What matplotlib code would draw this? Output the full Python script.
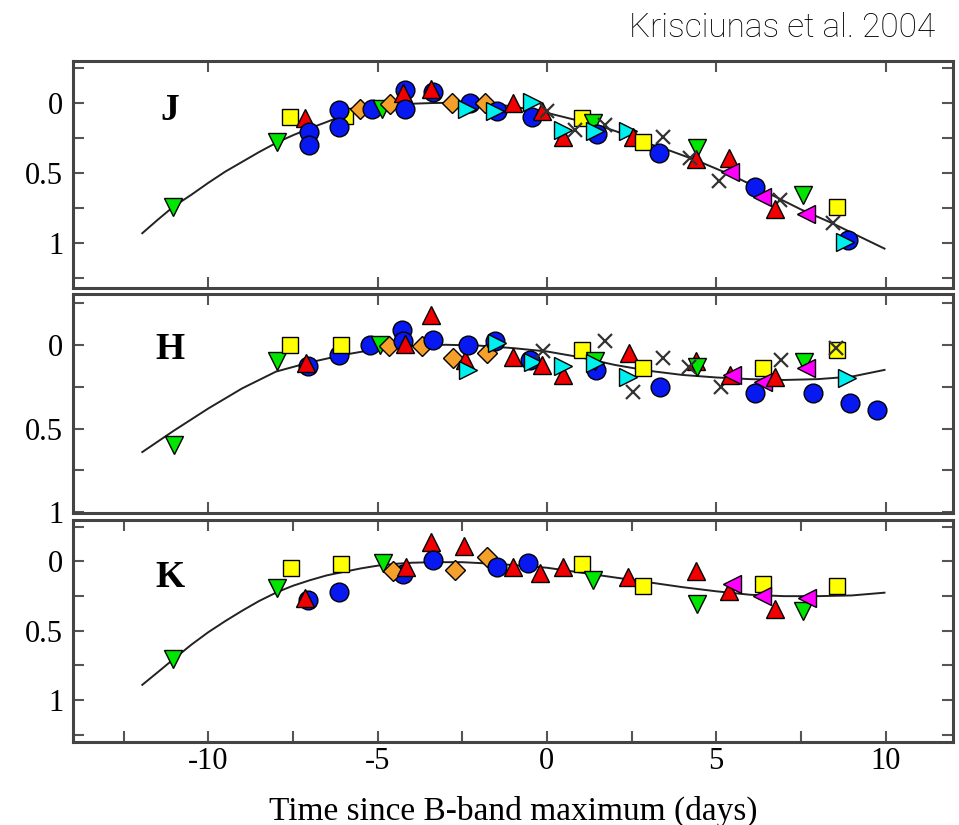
import matplotlib
matplotlib.use("Agg")
import matplotlib.pyplot as plt
from matplotlib.ticker import MultipleLocator, FixedLocator

plt.rcParams['axes.unicode_minus'] = False
plt.rcParams['font.family'] = ['Liberation Serif', 'DejaVu Serif']

# symbol codes: o blue circle, ^ red, v green, s yellow, D orange, > cyan, < magenta, x cross
J_t = [-11.03, -7.96, -5.96, -7.58, -7.14, -7.02, -7.02, -6.14, -6.14, -5.52, -5.16, -4.87, -4.63,
       -4.19, -4.25, -4.19, -3.36, -3.42, -2.80, -2.27, -2.36, -1.83, -1.47, -1.53, -1.0,
       -0.44, -0.44, -0.15, 0.0, 1.03, 1.36, 1.71, 0.47, 0.47, 0.83, 1.47, 1.42, 2.39, 2.54,
       2.83, 3.42, 3.30, 4.42, 4.40, 4.22, 5.37, 5.40, 5.07, 6.14, 6.34, 6.87, 6.73, 7.55, 7.64,
       8.58, 8.44, 8.88, 8.79]
J_mag = [0.74, 0.28, 0.09, 0.10, 0.11, 0.21, 0.30, 0.05, 0.17, 0.04, 0.04, 0.04, 0.01,
         -0.09, -0.07, 0.04, -0.08, -0.10, 0.0, 0.0, 0.04, 0.0, 0.06, 0.06, 0.0,
         0.10, -0.01, 0.06, 0.06, 0.11, 0.14, 0.16, 0.24, 0.19, 0.19, 0.22, 0.20, 0.20, 0.24,
         0.28, 0.24, 0.36, 0.32, 0.40, 0.39, 0.39, 0.49, 0.56, 0.60, 0.67, 0.69, 0.76, 0.66, 0.79,
         0.74, 0.86, 0.98, 0.99]
J_sym = ['v', 'v', 's', 's', '^', 'o', 'o', 'o', 'o', 'D', 'o', 'v', 'D',
         'o', '^', 'o', 'o', '^', 'D', 'o', '>', 'D', 'o', '>', '^',
         'o', '>', '^', 'x', 's', 'v', 'x', '^', '>', 'x', 'o', '>', '>', '^',
         's', 'x', 'o', 'v', '^', 'x', '^', '<', 'x', 'o', '<', 'x', '^', 'v', '<',
         's', 'x', 'o', '>']

H_t = [-11.0, -7.96, -7.58, -7.05, -7.11, -6.14, -6.08, -5.22, -4.93, -4.66, -4.28, -4.25, -4.19,
       -3.69, -3.42, -3.36, -2.77, -2.42, -2.33, -2.33, -1.77, -1.53, -1.47, -1.0, -0.50, -0.41,
       -0.15, -0.12, 0.47, 0.47, 1.03, 1.45, 1.42, 1.42, 1.71, 2.39, 2.54, 2.42, 2.83, 3.42, 3.33,
       4.40, 4.42, 4.19, 5.13, 5.40, 5.46, 6.37, 6.37, 6.73, 6.90, 6.14, 7.58, 7.64, 7.85, 8.58,
       8.55, 8.85, 8.94, 9.76]
H_mag = [0.60, 0.095, 0.0, 0.125, 0.11, 0.06, 0.0, 0.0, 0.0, 0.005, -0.09, -0.02, -0.005,
         0.01, -0.18, -0.03, 0.08, 0.09, 0.15, 0.0, 0.05, -0.02, -0.01, 0.07, 0.09, 0.10,
         0.12, 0.04, 0.18, 0.125, 0.03, 0.15, 0.095, 0.11, -0.02, 0.19, 0.28, 0.05, 0.14, 0.08, 0.25,
         0.095, 0.13, 0.13, 0.25, 0.18, 0.18, 0.14, 0.22, 0.19, 0.09, 0.29, 0.10, 0.14, 0.29, 0.03,
         0.02, 0.20, 0.35, 0.39]
H_sym = ['v', 'v', 's', 'o', '^', 'o', 's', 'o', 'v', 'D', 'o', 'o', '^',
         'D', '^', 'o', 'D', '^', '>', 'o', 'D', 'o', '>', '^', 'o', '>',
         '^', 'x', '^', '>', 's', 'o', 'v', '>', 'x', '>', 'x', '^', 's', 'x', 'o',
         '^', 'v', 'x', 'x', '^', '<', 's', '<', '^', 'x', 'o', 'v', '<', 'o', 's',
         'x', '>', 'o', 'o']

K_t = [-11.03, -7.96, -7.55, -7.05, -7.14, -6.14, -6.08, -4.84, -4.25, -4.54, -4.16, -3.42, -3.36,
       -2.45, -2.71, -1.77, -1.47, -1.0, -0.56, -0.21, 0.47, 1.03, 1.36, 2.39, 2.83, 4.40, 4.42,
       5.37, 5.46, 6.37, 6.34, 6.73, 7.55, 7.67, 8.58]
K_mag = [0.70, 0.19, 0.045, 0.28, 0.26, 0.22, 0.015, 0.01, 0.09, 0.07, 0.04, -0.14, -0.01,
         -0.11, 0.06, -0.03, 0.04, 0.04, 0.01, 0.08, 0.04, 0.015, 0.13, 0.115, 0.18, 0.065, 0.31,
         0.215, 0.165, 0.165, 0.25, 0.34, 0.36, 0.26, 0.18]
K_sym = ['v', 'v', 's', 'o', '^', 'o', 's', 'v', 'o', 'D', '^', '^', 'o',
         '^', 'D', 'D', 'o', '^', 'o', '^', '^', 's', 'v', '^', 's', '^', 'v',
         '^', '<', 's', '<', '^', 'v', '<', 's']

# template curves
J_curve_t = [-11.95, -11.5, -11.03, -10.5, -10.0, -9.5, -9.0, -8.5, -7.96, -7.5, -7.0, -6.5, -6.14,
             -5.5, -5.0, -4.5, -4.0, -3.4, -2.5, -1.8, -1.0, -0.5, 0.0, 0.5, 1.0, 1.65, 2.5, 3.0,
             3.63, 4.42, 5.5, 6.67, 7.5, 8.44, 9.2, 9.97]
J_curve_mag = [0.93, 0.835, 0.74, 0.655, 0.57, 0.49, 0.42, 0.35, 0.28, 0.23, 0.18, 0.135, 0.10,
               0.06, 0.03, 0.015, 0.005, 0.0, -0.003, 0.0, 0.025, 0.045, 0.07, 0.10, 0.13, 0.17, 0.24, 0.29,
               0.34, 0.41, 0.52, 0.66, 0.76, 0.86, 0.95, 1.04]
H_curve_t = [-11.95, -11.0, -10.0, -9.0, -8.0, -7.0, -6.0, -5.0, -4.0, -3.0, -2.0, -1.0, 0.0, 1.0,
             2.0, 3.0, 4.0, 5.0, 6.0, 7.0, 8.0, 9.0, 9.97]
H_curve_mag = [0.64, 0.51, 0.38, 0.26, 0.16, 0.105, 0.06, 0.025, 0.008, 0.0, 0.005, 0.02, 0.04, 0.075,
               0.12, 0.155, 0.18, 0.195, 0.205, 0.21, 0.205, 0.19, 0.15]
K_curve_t = [-11.95, -11.5, -11.03, -10.5, -10.0, -9.5, -9.0, -8.5, -7.96, -7.5, -7.0, -6.5, -6.0,
             -5.5, -5.0, -4.5, -4.0, -3.36, -2.5, -1.3, 0.0, 1.0, 2.0, 3.0, 4.0, 5.0, 6.0, 7.0,
             8.0, 9.0, 9.97]
K_curve_mag = [0.89, 0.80, 0.705, 0.60, 0.51, 0.43, 0.355, 0.285, 0.22, 0.175, 0.135, 0.10, 0.075,
               0.05, 0.03, 0.017, 0.009, 0.005, 0.005, 0.02, 0.045, 0.08, 0.115, 0.15, 0.185, 0.215,
               0.24, 0.25, 0.25, 0.245, 0.225]

styles = {
    'o': dict(color='#0818F0', ms=13.5),
    '^': dict(color='#F00000', ms=13),
    'v': dict(color='#00E600', ms=13),
    's': dict(color='#FFFF00', ms=11.5),
    'D': dict(color='#F5A02A', ms=10),
    '>': dict(color='#00F0F0', ms=13),
    '<': dict(color='#FF00FF', ms=13),
    'x': dict(color='#333333', ms=10),
}

frame = '#444444'

fig = plt.figure(figsize=(9.59, 8.25), dpi=100)
gs = fig.add_gridspec(3, 1, left=0.076, right=0.994, top=0.926, bottom=0.101,
                      hspace=0.03, height_ratios=[227, 219, 222])

panels = [
    ('J', J_t, J_mag, J_sym, J_curve_t, J_curve_mag, (1.32, -0.3), 0.78),
    ('H', H_t, H_mag, H_sym, H_curve_t, H_curve_mag, (1.005, -0.3), 0.75),
    ('K', K_t, K_mag, K_sym, K_curve_t, K_curve_mag, (1.3, -0.3), 0.74),
]

for i, (name, t, mag, sym, ct, cm, ylim, ly) in enumerate(panels):
    ax = fig.add_subplot(gs[i])
    ax.plot(ct, cm, color='#222222', lw=1.4, zorder=2)
    for x, y, s in zip(t, mag, sym):
        st = styles[s]
        if s == 'x':
            ax.plot(x, y, marker='x', ms=st['ms'], mew=1.6, color=st['color'], ls='none', zorder=3)
        else:
            ax.plot(x, y, marker=s, ms=st['ms'], mfc=st['color'], mec='black', mew=1.0,
                    ls='none', zorder=3)
    ax.set_xlim(-14, 12)
    ax.set_ylim(*ylim)
    ax.xaxis.set_major_locator(MultipleLocator(5))
    ax.yaxis.set_major_locator(FixedLocator([0, 0.5, 1]))
    ax.yaxis.set_minor_locator(FixedLocator([-0.25, 0.25, 0.75, 1.25]))
    ax.set_yticklabels(['0', '0.5', '1'])
    if name == 'K':
        ax.xaxis.set_minor_locator(MultipleLocator(2.5))
    ax.tick_params(which='both', direction='in', top=True, right=True, length=8,
                   width=1.5, color='#555555', labelsize=22)
    ax.tick_params(axis='y', pad=7)
    ax.tick_params(axis='x', pad=4)
    if name != 'K':
        ax.tick_params(labelbottom=False)
    for sp in ax.spines.values():
        sp.set_color(frame)
        sp.set_linewidth(2.2)
    ax.text(0.11, ly, name, transform=ax.transAxes, fontsize=27, fontweight='bold',
            ha='center', va='center')
    if name == 'K':
        ax.set_xlabel('Time since B-band maximum (days)', fontsize=24, labelpad=14)

fig.text(0.975, 0.966, 'Krisciunas et al. 2004', ha='right', va='center', fontsize=24,
         family='Roboto', fontweight='light', color='#000000')

fig.savefig('out.png', dpi=100)
